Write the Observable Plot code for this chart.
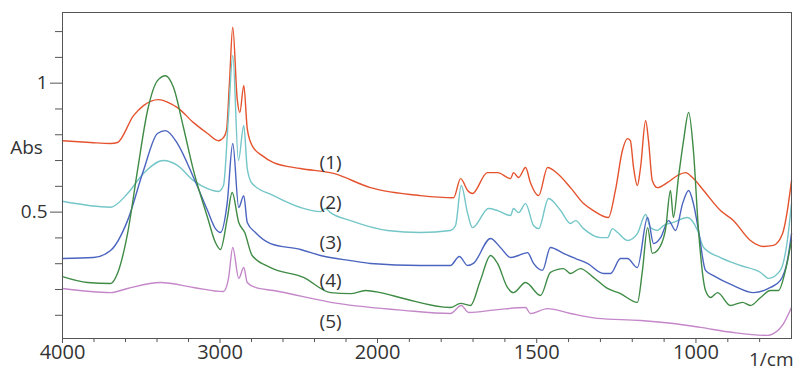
<!DOCTYPE html>
<html><head><meta charset="utf-8">
<script src="https://cdn.jsdelivr.net/npm/d3@7"></script>
<script src="https://cdn.jsdelivr.net/npm/@observablehq/plot@0.6"></script>
<style>
html,body{margin:0;padding:0;background:#fff;}
#chart svg{display:block;}
</style></head><body><div id="chart"></div>
<script>
// [wavenumber (1/cm), absorbance]
const spectrum1 = [[4000,0.777],[3822,0.770],[3695,0.766],[3651,0.770],[3549,0.874],[3486,0.913],[3390,0.936],[3314,0.921],[3270,0.905],[3168,0.847],[3079,0.805],[3010,0.777],[2978,0.789],[2959,0.816],[2940,1.002],[2919,1.217],[2891,0.940],[2874,0.886],[2849,0.991],[2827,0.824],[2796,0.758],[2732,0.719],[2660,0.692],[2489,0.669],[2279,0.650],[2045,0.595],[1865,0.564],[1761,0.556],[1739,0.630],[1717,0.584],[1702,0.572],[1655,0.653],[1623,0.653],[1582,0.630],[1573,0.653],[1557,0.634],[1535,0.673],[1520,0.615],[1494,0.564],[1466,0.673],[1435,0.650],[1394,0.595],[1353,0.533],[1322,0.506],[1275,0.479],[1253,0.584],[1231,0.739],[1215,0.785],[1206,0.777],[1196,0.673],[1184,0.603],[1174,0.673],[1158,0.855],[1149,0.777],[1137,0.622],[1121,0.595],[1089,0.615],[1058,0.642],[1033,0.653],[1008,0.630],[976,0.584],[923,0.506],[882,0.467],[829,0.390],[788,0.367],[757,0.371],[728,0.417],[713,0.506],[700,0.622]];
const spectrum2 = [[4000,0.542],[3695,0.519],[3587,0.572],[3486,0.650],[3359,0.700],[3270,0.681],[3168,0.622],[3079,0.591],[3010,0.580],[2978,0.603],[2946,0.874],[2919,1.107],[2883,0.700],[2849,0.836],[2827,0.669],[2796,0.611],[2660,0.564],[2489,0.518],[2362,0.502],[2330,0.514],[2298,0.498],[2171,0.467],[1969,0.429],[1865,0.421],[1771,0.429],[1755,0.448],[1737,0.603],[1717,0.495],[1702,0.440],[1651,0.514],[1623,0.506],[1582,0.487],[1573,0.514],[1557,0.498],[1535,0.533],[1510,0.448],[1494,0.436],[1463,0.553],[1425,0.506],[1394,0.456],[1378,0.467],[1353,0.436],[1300,0.401],[1278,0.401],[1262,0.436],[1246,0.421],[1215,0.390],[1184,0.417],[1158,0.491],[1143,0.440],[1121,0.429],[1102,0.448],[1071,0.460],[1027,0.479],[995,0.429],[976,0.363],[923,0.324],[860,0.293],[797,0.266],[772,0.243],[735,0.274],[713,0.390],[700,0.533]];
const spectrum3 = [[4000,0.320],[3803,0.324],[3695,0.351],[3587,0.467],[3486,0.661],[3397,0.805],[3346,0.816],[3270,0.766],[3168,0.634],[3079,0.506],[3029,0.436],[2997,0.421],[2954,0.537],[2919,0.766],[2881,0.518],[2849,0.564],[2827,0.460],[2775,0.421],[2679,0.378],[2489,0.355],[2362,0.332],[2171,0.312],[2045,0.301],[1865,0.293],[1771,0.293],[1743,0.328],[1717,0.293],[1699,0.301],[1645,0.398],[1614,0.363],[1582,0.324],[1557,0.332],[1529,0.343],[1510,0.301],[1482,0.274],[1457,0.363],[1416,0.340],[1378,0.320],[1341,0.301],[1290,0.262],[1268,0.262],[1237,0.320],[1215,0.320],[1184,0.285],[1152,0.479],[1133,0.378],[1111,0.401],[1086,0.467],[1064,0.429],[1042,0.533],[1023,0.584],[1008,0.533],[992,0.429],[970,0.274],[945,0.254],[882,0.215],[819,0.188],[766,0.208],[735,0.235],[713,0.312],[700,0.417]];
const spectrum4 = [[4000,0.250],[3841,0.227],[3695,0.223],[3651,0.262],[3587,0.417],[3524,0.661],[3460,0.894],[3397,1.010],[3346,1.029],[3295,0.983],[3232,0.828],[3168,0.661],[3079,0.479],[3029,0.382],[2997,0.355],[2954,0.475],[2923,0.576],[2881,0.460],[2843,0.421],[2796,0.332],[2679,0.285],[2470,0.247],[2298,0.188],[2171,0.184],[2076,0.196],[1991,0.188],[1918,0.165],[1771,0.130],[1739,0.146],[1708,0.138],[1677,0.235],[1645,0.332],[1623,0.301],[1592,0.208],[1573,0.188],[1535,0.227],[1488,0.177],[1457,0.266],[1416,0.281],[1394,0.262],[1363,0.281],[1322,0.247],[1278,0.204],[1237,0.184],[1184,0.150],[1168,0.274],[1152,0.440],[1137,0.340],[1121,0.351],[1096,0.429],[1080,0.584],[1071,0.479],[1055,0.634],[1039,0.777],[1023,0.886],[1008,0.739],[992,0.429],[970,0.196],[954,0.169],[932,0.188],[892,0.138],[854,0.150],[829,0.138],[797,0.169],[766,0.196],[741,0.196],[719,0.274],[700,0.390]];
const spectrum5 = [[4000,0.204],[3695,0.188],[3587,0.204],[3378,0.227],[3168,0.208],[2978,0.192],[2946,0.243],[2919,0.363],[2881,0.243],[2849,0.285],[2827,0.227],[2775,0.208],[2660,0.196],[2254,0.146],[1918,0.119],[1771,0.107],[1737,0.138],[1714,0.111],[1623,0.122],[1535,0.130],[1520,0.107],[1466,0.126],[1394,0.107],[1309,0.088],[1174,0.080],[1071,0.068],[986,0.053],[882,0.033],[775,0.022],[757,0.029],[725,0.068],[700,0.130]];

const seriesNames = ["(1)", "(2)", "(3)", "(4)", "(5)"];
const spectra = [spectrum1, spectrum2, spectrum3, spectrum4, spectrum5];
const labelWavenumber = [2298, 2298, 2298, 2298, 2298];
const labelAbs = [0.692, 0.537, 0.382, 0.235, 0.076];

const xMajorTicks = [4000, 3000, 2000, 1500, 1000];
const xMinorTicks = [3800, 3600, 3400, 3200, 2800, 2600, 2400, 2200, 1900, 1800, 1700, 1600, 1400, 1300, 1200, 1100, 900, 800];
const yMajorTicks = [0.5, 1];
const yMinorTicks = [0.1, 0.2, 0.3, 0.4, 0.6, 0.7, 0.8, 0.9, 1.1, 1.2];

const rows = spectra.flatMap((s, i) => s.map(([wn, a]) => ({series: seriesNames[i], wn, abs: a})));
const labels = seriesNames.map((n, i) => ({series: n, wn: labelWavenumber[i], abs: labelAbs[i]}));

const chart = Plot.plot({
  width: 800,
  height: 375,
  marginLeft: 62,
  marginRight: 9,
  marginTop: 12,
  marginBottom: 37,
  style: {fontFamily: "'Open Sans', sans-serif", fontSize: "18px", color: "#333", background: "#fff"},
  x: {type: "linear", domain: [4000, 2000, 700], range: [62, 377, 791]},
  y: {domain: [0.01, 1.274]},
  color: {domain: seriesNames, range: ["#e4532e", "#74c6c8", "#4a64bf", "#3f8b45", "#c487c9"]},
  marks: [
    Plot.line(rows, {x: "wn", y: "abs", z: "series", stroke: "series", strokeWidth: 1.4, curve: "monotone-x"}),
    Plot.frame({stroke: "#555", strokeWidth: 1}),
    Plot.axisX(xMinorTicks, {tickSize: 4, tickFormat: () => "", label: null, stroke: "#555"}),
    Plot.axisX(xMajorTicks, {tickSize: 5, tickPadding: 1, label: null, stroke: "#555", fontSize: 20, tickFormat: d => String(d), style: "letter-spacing:2px"}),
    Plot.axisY(yMinorTicks, {tickSize: 7, tickFormat: () => "", label: null, stroke: "#555"}),
    Plot.axisY(yMajorTicks, {tickSize: 12, tickPadding: 3, label: null, stroke: "#555", fontSize: 19, tickFormat: d => String(d)}),
    Plot.text(labels, {x: "wn", y: "abs", text: "series", fontSize: 19, fill: "#333", style: "letter-spacing:2px"}),
    Plot.text(["Abs"], {frameAnchor: "left", dx: -36, dy: -28, textAnchor: "middle", fontSize: 19, fill: "#333"}),
    Plot.text(["1/cm"], {frameAnchor: "bottom-right", dx: 2, dy: 27, textAnchor: "end", fontSize: 19, fill: "#333"})
  ]
});
document.getElementById("chart").appendChild(chart);
</script></body></html>
